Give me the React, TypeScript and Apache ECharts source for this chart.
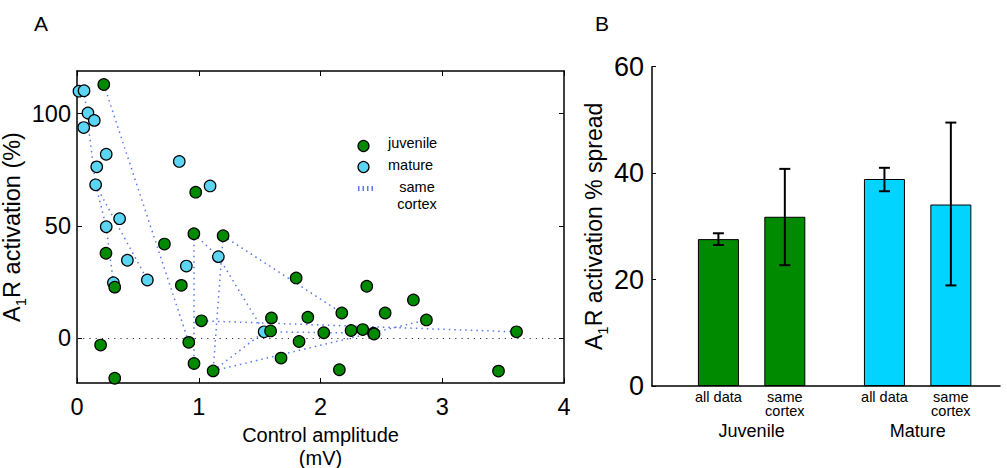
import React, { useEffect, useRef } from 'react';
import * as echarts from 'echarts';

// ---------- Panel A data ----------
const juvenileX = [0.22, 0.975, 0.96, 1.2, 0.718, 0.238, 0.31, 0.857, 1.022, 0.194, 0.918, 0.961, 1.118, 0.31, 1.8, 2.38, 2.763, 1.597, 1.896, 2.175, 2.531, 2.87, 1.59, 2.027, 2.251, 2.347, 2.435, 2.44, 1.824, 1.676, 2.155, 3.61, 3.462];
const juvenileY = [113, 65, 46.5, 45.6, 41.9, 37.8, 22.7, 23.5, 7.7, -3.1, -1.9, -11.3, -14.6, -17.9, 26.8, 23.1, 17, 9, 9.3, 11.2, 11.2, 8.1, 3.2, 2.4, 3.4, 3.8, 2.2, 1.8, -1.5, -8.9, -14.1, 2.8, -14.7];
const matureX = [0.016, 0.058, 0.09, 0.142, 0.055, 0.24, 0.84, 0.162, 0.153, 1.093, 0.35, 0.24, 1.161, 0.414, 0.898, 0.578, 0.299, 1.537];
const matureY = [110, 110.2, 100.3, 97, 93.8, 81.9, 78.7, 76.3, 68.3, 67.8, 53.2, 49.6, 36.3, 34.7, 32.1, 25.9, 24.7, 2.8];
// same-cortex connections: [x1, y1, x2, y2]
const sameCortexPairs = [
  [0.22, 113, 0.918, -1.9],
  [0.058, 110.2, 0.153, 68.3],
  [0.153, 68.3, 0.578, 25.9],
  [0.153, 68.3, 0.24, 49.6],
  [0.24, 49.6, 0.299, 24.7],
  [0.96, 46.5, 0.961, -11.3],
  [1.2, 45.6, 1.118, -14.6],
  [0.96, 46.5, 1.161, 36.3],
  [1.161, 36.3, 1.537, 2.8],
  [1.2, 45.6, 2.175, 11.2],
  [1.022, 7.7, 3.61, 2.8],
  [1.118, -14.6, 2.87, 8.1],
  [1.118, -14.6, 1.537, 2.8],
  [1.537, 2.8, 2.435, 2.2],
];
const xTicksA = [0, 1, 2, 3, 4];
const yTicksA = [0, 50, 100];

// ---------- Panel B data ----------
const groupNames = ['Juvenile', 'Mature'];
const subLabels = ['all data', 'same\ncortex'];
const barValues = [27.6, 31.8, 38.9, 34.1];
const errLow = [26.5, 22.7, 36.6, 18.9];
const errHigh = [28.7, 40.8, 41.0, 49.5];
const yTicksB = [0, 20, 40, 60];

const GREEN = '#008a00';
const CYAN_DOT = '#5ad6f4';
const CYAN_BAR = '#00d4ff';
const BLUE_LINE = '#5a78f0';
const FONT = 'Liberation Sans, Arial, Helvetica, sans-serif';

// bar slot positions derived from group / sub index
const barPositions = barValues.map((_, i) => Math.floor(i / 2) * 2.5 + (i % 2) + 1);
const groupCenters = groupNames.map((_, g) => g * 2.5 + 1.5);

export default function App() {
  const ref = useRef<HTMLDivElement>(null);
  useEffect(() => {
    const chart = echarts.init(ref.current!, null, { renderer: 'svg' });
    const axisLineStyle = { color: '#000', width: 1.5 };
    const option: any = {
      animation: false,
      backgroundColor: '#fff',
      textStyle: { fontFamily: FONT },
      grid: [
        { left: 77, top: 71, width: 487, height: 312, outerBoundsMode: 'none', containLabel: false },
        { left: 652, top: 66.7, width: 348, height: 319.3, outerBoundsMode: 'none', containLabel: false },
      ],
      xAxis: [
        {
          gridIndex: 0, type: 'value', min: xTicksA[0], max: xTicksA[xTicksA.length - 1], interval: 1,
          position: 'bottom',
          axisLine: { show: true, onZero: false, lineStyle: axisLineStyle },
          axisTick: { show: true, inside: true, length: 5, lineStyle: { color: '#000' } },
          axisLabel: { fontSize: 23.5, color: '#000', margin: 12, fontFamily: FONT },
          splitLine: { show: false },
          name: 'Control amplitude\n(mV)', nameLocation: 'middle', nameGap: 39,
          nameTextStyle: { fontSize: 20, lineHeight: 23, color: '#000', fontFamily: FONT },
        },
        {
          gridIndex: 0, type: 'value', min: xTicksA[0], max: xTicksA[xTicksA.length - 1], interval: 1,
          position: 'top',
          axisLine: { show: true, onZero: false, lineStyle: axisLineStyle },
          axisTick: { show: true, inside: true, length: 5, lineStyle: { color: '#000' } },
          axisLabel: { show: false },
          splitLine: { show: false },
        },
        {
          gridIndex: 1, type: 'value', min: 0, max: 5.24,
          position: 'bottom',
          axisLine: { show: true, onZero: false, lineStyle: axisLineStyle },
          axisTick: { show: false },
          axisLabel: {
            customValues: barPositions,
            formatter: (v: number) => {
              const i = barPositions.findIndex((p) => Math.abs(p - v) < 1e-6);
              return i >= 0 ? subLabels[i % 2] : '';
            },
            fontSize: 14.5, lineHeight: 14, color: '#000', margin: 4, fontFamily: FONT,
          },
          splitLine: { show: false },
        },
        {
          gridIndex: 1, type: 'value', min: 0, max: 5.24,
          position: 'bottom', offset: 30,
          axisLine: { show: false },
          axisTick: { show: false },
          axisLabel: {
            customValues: groupCenters,
            formatter: (v: number) => {
              const i = groupCenters.findIndex((p) => Math.abs(p - v) < 1e-6);
              return i >= 0 ? groupNames[i] : '';
            },
            fontSize: 18, color: '#000', margin: 6, fontFamily: FONT,
          },
          splitLine: { show: false },
        },
      ],
      yAxis: [
        {
          gridIndex: 0, type: 'value', min: -20, max: 119, position: 'left',
          axisLine: { show: true, onZero: false, lineStyle: axisLineStyle },
          axisTick: { show: true, inside: true, length: 5, customValues: yTicksA, lineStyle: { color: '#000' } },
          axisLabel: { customValues: yTicksA, fontSize: 23.5, color: '#000', margin: 6, fontFamily: FONT },
          splitLine: { show: false },
          name: '{a|A}{s|1}{a|R activation (%)}', nameLocation: 'middle', nameGap: 37, nameRotate: 90,
          nameTextStyle: {
            color: '#000',
            rich: {
              a: { fontSize: 23.5, lineHeight: 26, color: '#000', fontFamily: FONT },
              s: { fontSize: 15, lineHeight: 15, verticalAlign: 'bottom', color: '#000', fontFamily: FONT, padding: [0, 0, -3, 0] },
            },
          },
        },
        {
          gridIndex: 0, type: 'value', min: -20, max: 119, position: 'right',
          axisLine: { show: true, onZero: false, lineStyle: axisLineStyle },
          axisTick: { show: true, inside: true, length: 5, customValues: yTicksA, lineStyle: { color: '#000' } },
          axisLabel: { show: false },
          splitLine: { show: false },
        },
        {
          gridIndex: 1, type: 'value', min: yTicksB[0], max: yTicksB[yTicksB.length - 1], interval: 20, position: 'left',
          axisLine: { show: true, onZero: false, lineStyle: axisLineStyle },
          axisTick: { show: true, inside: true, length: 4, lineStyle: { color: '#000' } },
          axisLabel: { fontSize: 27, color: '#000', margin: 8, fontFamily: FONT },
          splitLine: { show: false },
          name: '{a|A}{s|1}{a|R activation % spread}', nameLocation: 'middle', nameGap: 32, nameRotate: 90,
          nameTextStyle: {
            color: '#000',
            rich: {
              a: { fontSize: 23, lineHeight: 26, color: '#000', fontFamily: FONT },
              s: { fontSize: 15, lineHeight: 15, verticalAlign: 'bottom', color: '#000', fontFamily: FONT, padding: [0, 0, -3, 0] },
            },
          },
        },
      ],
      series: [
        {
          type: 'lines', coordinateSystem: 'cartesian2d', xAxisIndex: 0, yAxisIndex: 0, z: 2,
          data: sameCortexPairs.map((p) => ({ coords: [[p[0], p[1]], [p[2], p[3]]] })),
          lineStyle: { color: BLUE_LINE, width: 1.5, type: [1.5, 4], opacity: 1, curveness: 0 },
          silent: true,
        },
        {
          type: 'scatter', xAxisIndex: 0, yAxisIndex: 0, z: 3, name: 'mature',
          data: matureX.map((x, i) => [x, matureY[i]]),
          symbolSize: 11.5,
          itemStyle: { color: CYAN_DOT, borderColor: '#000', borderWidth: 1.2, opacity: 1 },
        },
        {
          type: 'scatter', xAxisIndex: 0, yAxisIndex: 0, z: 3, name: 'juvenile',
          data: juvenileX.map((x, i) => [x, juvenileY[i]]),
          symbolSize: 11.5,
          itemStyle: { color: GREEN, borderColor: '#000', borderWidth: 1.2, opacity: 1 },
          markLine: {
            silent: true, symbol: 'none', label: { show: false },
            lineStyle: { color: '#333', type: [1.2, 5], width: 1 },
            data: [{ yAxis: 0 }],
          },
        },
        {
          type: 'bar', xAxisIndex: 2, yAxisIndex: 2, barWidth: 41,
          data: barValues.map((v, i) => ({
            value: [barPositions[i], v],
            itemStyle: { color: i < 2 ? GREEN : CYAN_BAR, borderColor: '#000', borderWidth: 1 },
          })),
        },
        {
          type: 'custom', xAxisIndex: 2, yAxisIndex: 2, z: 5,
          data: barPositions.map((p, i) => [p, errLow[i], errHigh[i]]),
          encode: { x: 0, y: [1, 2] },
          renderItem: (params: any, api: any) => {
            const x = api.value(0);
            const lo = api.coord([x, api.value(1)]);
            const hi = api.coord([x, api.value(2)]);
            const w = 5.5;
            const st = { stroke: '#000', lineWidth: 2 };
            return {
              type: 'group',
              children: [
                { type: 'line', shape: { x1: lo[0], y1: lo[1], x2: hi[0], y2: hi[1] }, style: st },
                { type: 'line', shape: { x1: lo[0] - w, y1: lo[1], x2: lo[0] + w, y2: lo[1] }, style: st },
                { type: 'line', shape: { x1: hi[0] - w, y1: hi[1], x2: hi[0] + w, y2: hi[1] }, style: st },
              ],
            };
          },
        },
      ],
      graphic: [
        { type: 'text', left: 34, top: 13, style: { text: 'A', fontSize: 21, fill: '#000', fontFamily: FONT } },
        { type: 'text', left: 595, top: 13, style: { text: 'B', fontSize: 21, fill: '#000', fontFamily: FONT } },
        // legend
        { type: 'circle', shape: { cx: 363.5, cy: 146, r: 5.5 }, style: { fill: GREEN, stroke: '#000', lineWidth: 1.2 } },
        { type: 'text', x: 388, y: 143, style: { text: 'juvenile', fontSize: 14.5, fill: '#000', fontFamily: FONT, verticalAlign: 'middle' } },
        { type: 'circle', shape: { cx: 363.5, cy: 167, r: 5.5 }, style: { fill: CYAN_DOT, stroke: '#000', lineWidth: 1.2 } },
        { type: 'text', x: 388, y: 165, style: { text: 'mature', fontSize: 14.5, fill: '#000', fontFamily: FONT, verticalAlign: 'middle' } },
        { type: 'rect', shape: { x: 358, y: 186, width: 1.5, height: 5 }, style: { fill: BLUE_LINE } },
        { type: 'rect', shape: { x: 362.5, y: 186, width: 1.5, height: 5 }, style: { fill: BLUE_LINE } },
        { type: 'rect', shape: { x: 367, y: 186, width: 1.5, height: 5 }, style: { fill: BLUE_LINE } },
        { type: 'rect', shape: { x: 371.5, y: 186, width: 1.5, height: 5 }, style: { fill: BLUE_LINE } },
        { type: 'text', x: 417, y: 187, style: { text: 'same', fontSize: 14.5, fill: '#000', fontFamily: FONT, align: 'center', verticalAlign: 'middle' } },
        { type: 'text', x: 417, y: 204, style: { text: 'cortex', fontSize: 14.5, fill: '#000', fontFamily: FONT, align: 'center', verticalAlign: 'middle' } },
      ],
    };
    chart.setOption(option);
    return () => chart.dispose();
  }, []);
  return <div ref={ref} style={{ position: 'fixed', left: 0, top: 0, width: 1007, height: 468 }} />;
}
